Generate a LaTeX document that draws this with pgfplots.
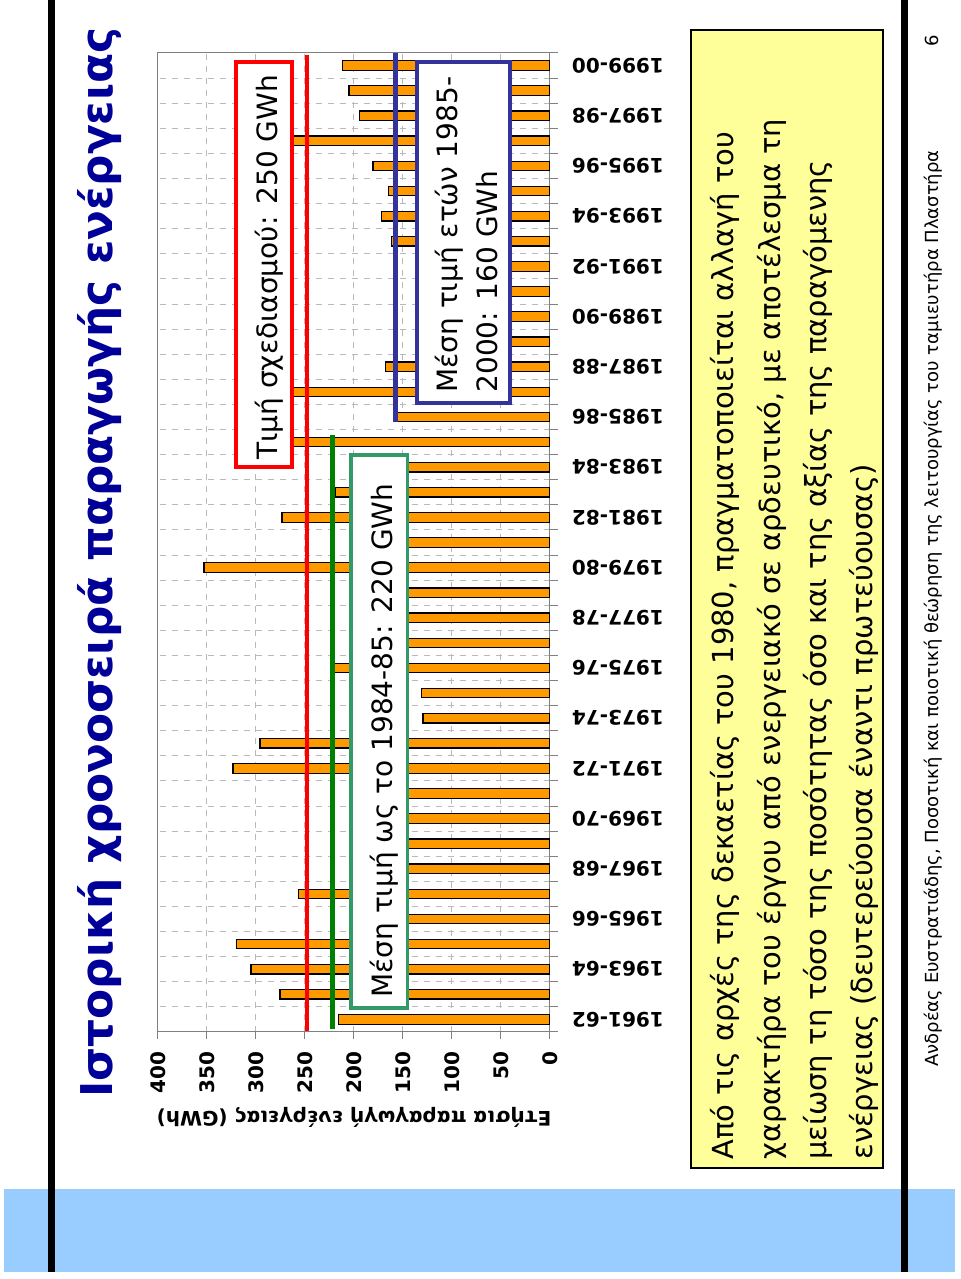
\documentclass[border=0pt]{standalone}
\usepackage{fontspec}
\setmainfont{DejaVu Sans}
\usepackage{pgfplots}
\usepackage{pgfplotstable}
\pgfplotsset{compat=1.18}

\definecolor{titleblue}{RGB}{0,0,153}
\definecolor{barorange}{RGB}{255,153,0}
\definecolor{bandblue}{RGB}{153,204,255}
\definecolor{noteyellow}{RGB}{255,255,153}
\definecolor{boxgreen}{RGB}{51,153,102}
\definecolor{linegreen}{RGB}{0,128,0}
\definecolor{navyline}{RGB}{51,51,153}

% annual energy production (GWh), 1961-62 = 0 ... 1999-00 = 38
\pgfplotstableread{
idx value
0 216
1 275.5
2 305
3 320
4 175
5 257
6 185
7 160
8 170
9 165
10 323.5
11 296
12 129.6
13 131
14 221
15 175
16 160
17 180
18 353
19 160
20 273.5
21 218.7
22 170
23 280
24 157
25 270
26 167.7
27 55
28 48
29 45
30 52
31 162
32 172
33 165
34 180.6
35 313
36 194
37 205
38 211.5
}\energy

\begin{document}
\begin{tikzpicture}[x=0.5pt,y=0.5pt]
\useasboundingbox (0,0) rectangle (960,1279);
% slide frame
\fill[bandblue] (4,7) rectangle (955,90);
\fill[black] (48,7) rectangle (55,1279);
\fill[black] (901,7) rectangle (908,1279);

\node[rotate=90, anchor=base west, inner sep=0, text=titleblue,
      font=\bfseries\fontsize{21.9}{26}\selectfont] at (112,181)
  {Ιστορική χρονοσειρά παραγωγής ενέργειας};

\begin{axis}[
  at={(79pt,123.5pt)}, anchor=south west,
  width=196pt, height=489.5pt, scale only axis,
  xbar, bar width=4.75pt,
  xmin=0, xmax=400, x dir=reverse,
  ymin=-0.5, ymax=38.5,
  xtick={0,50,...,400},
  ytick={0,2,...,38},
  yticklabels={1961-62,1963-64,1965-66,1967-68,1969-70,1971-72,1973-74,
    1975-76,1977-78,1979-80,1981-82,1983-84,1985-86,1987-88,1989-90,
    1991-92,1993-94,1995-96,1997-98,1999-00},
  minor ytick={-0.5,0.5,...,38.5},
  xtick pos=left, ytick pos=right,
  yticklabel pos=right,
  tick align=outside,
  major tick length=3.5pt, minor tick length=4pt,
  major y tick style={draw=none},
  xmajorgrids, yminorgrids,
  grid style={dashed, gray!55, line width=0.5pt},
  axis line style={gray, line width=0.5pt},
  tick style={gray, line width=0.5pt},
  /pgf/number format/assume math mode=true,
  xticklabel shift=3pt, yticklabel shift=4pt,
  xticklabel style={rotate=90, anchor=east, font=\bfseries\fontsize{10}{12}\selectfont},
  yticklabel style={rotate=180, anchor=east, font=\bfseries\fontsize{10}{12}\selectfont},
]
\addplot[fill=barorange, draw=black, line width=0.6pt] table[x=value, y=idx] {\energy};
\draw[red, line width=2.25pt] (axis cs:248,-0.45) -- (axis cs:248,38.4);
\draw[linegreen, line width=2.2pt] (axis cs:222,-0.4) -- (axis cs:222,23.3);
\draw[navyline, line width=2.5pt] (axis cs:158,23.8) -- (axis cs:158,38.5);
\end{axis}

\node[rotate=180, inner sep=0, font=\bfseries\fontsize{10}{12}\selectfont] at (354,162)
  {Ετήσια παραγωγή ενέργειας (GWh)};

% annotation boxes
\draw[red, line width=1.6pt, fill=white] (236,812) rectangle (292,1217);
\node[rotate=90, anchor=base, inner sep=0, font=\fontsize{14}{17}\selectfont] at (277,1011.5)
  {Τιμή σχεδιασμού: 250 GWh};
\draw[boxgreen, line width=1.6pt, fill=white] (351,271) rectangle (407.5,824);
\node[rotate=90, anchor=base west, inner sep=0, font=\fontsize{14}{17}\selectfont] at (392,281)
  {Μέση τιμή ως το 1984-85: 220 GWh};
\draw[navyline, line width=1.75pt, fill=white] (417,876) rectangle (510,1217);
\node[rotate=90, anchor=base west, inner sep=0, font=\fontsize{14}{17}\selectfont] at (457,886)
  {Μέση τιμή ετών 1985-};
\node[rotate=90, anchor=base west, inner sep=0, font=\fontsize{14}{17}\selectfont] at (497,886)
  {2000: 160 GWh};

% comment box
\draw[black, line width=1.3pt, fill=noteyellow] (691,111) rectangle (883,1249);
\begin{scope}[every node/.style={rotate=90, anchor=base west, inner sep=0,
    font=\fontsize{14.5}{17}\selectfont}]
\node at (733,119) {Από τις αρχές της δεκαετίας του 1980, πραγματοποιείται αλλαγή του};
\node at (780,119) {χαρακτήρα του έργου από ενεργειακό σε αρδευτικό, με αποτέλεσμα τη};
\node at (826,119) {μείωση τη τόσο της ποσότητας όσο και της αξίας της παραγόμενης};
\node at (872,119) {ενέργειας (δευτερεύουσα έναντι πρωτεύουσας)};
\end{scope}

% footer
\node[rotate=90, anchor=base west, inner sep=0, font=\fontsize{9}{11}\selectfont] at (938,212)
  {Ανδρέας Ευστρατιάδης, Ποσοτική και ποιοτική θεώρηση της λειτουργίας του ταμιευτήρα Πλαστήρα};
\node[rotate=90, anchor=base, inner sep=0, font=\fontsize{9}{11}\selectfont] at (938,1238) {6};
\end{tikzpicture}
\end{document}
